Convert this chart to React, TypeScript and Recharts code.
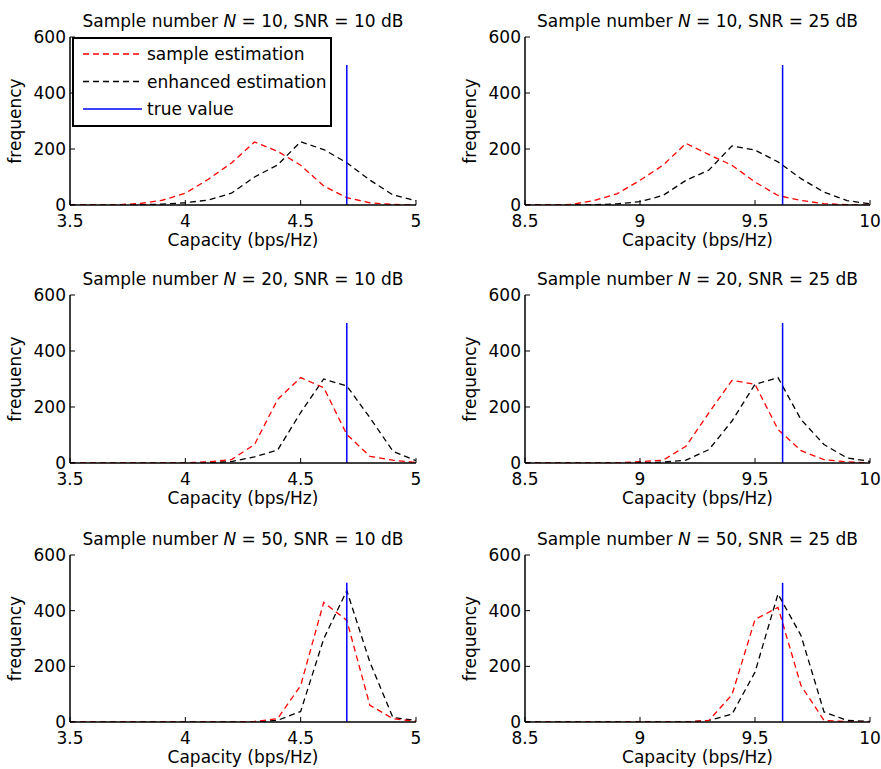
import React from 'react';
import { LineChart, Line, XAxis, YAxis, ReferenceLine, Legend } from 'recharts';

const FONT = '"DejaVu Sans", Verdana, sans-serif';

// Capacity bins (bps/Hz)
const capLow = [3.5, 3.6, 3.7, 3.8, 3.9, 4.0, 4.1, 4.2, 4.3, 4.4, 4.5, 4.6, 4.7, 4.8, 4.9, 5.0];
const capHigh = [8.5, 8.6, 8.7, 8.8, 8.9, 9.0, 9.1, 9.2, 9.3, 9.4, 9.5, 9.6, 9.7, 9.8, 9.9, 10.0];
const ticksLow = [3.5, 4, 4.5, 5];
const ticksHigh = [8.5, 9, 9.5, 10];
const freqTicks = [0, 200, 400, 600];
const trueLow = 4.7;
const trueHigh = 9.62;
const trueHeight = 500;

// N = 10, SNR = 10 dB
const sampleN10S10 = [0, 0, 1, 5, 17, 42, 92, 150, 225, 192, 142, 68, 26, 8, 2, 0];
const enhancedN10S10 = [0, 0, 0, 1, 3, 8, 18, 42, 100, 143, 226, 198, 151, 89, 36, 15];
// N = 10, SNR = 25 dB
const sampleN10S25 = [0, 0, 2, 16, 40, 88, 142, 220, 180, 142, 82, 34, 16, 5, 1, 0];
const enhancedN10S25 = [0, 0, 0, 1, 4, 12, 34, 88, 125, 211, 196, 154, 94, 46, 16, 4];
// N = 20, SNR = 10 dB
const sampleN20S10 = [0, 0, 0, 0, 0, 1, 4, 12, 66, 227, 305, 269, 102, 24, 10, 2];
const enhancedN20S10 = [0, 0, 0, 0, 0, 0, 2, 5, 22, 46, 180, 300, 275, 162, 42, 8];
// N = 20, SNR = 25 dB
const sampleN20S25 = [0, 0, 0, 0, 1, 5, 10, 60, 180, 295, 281, 120, 44, 12, 4, 0];
const enhancedN20S25 = [0, 0, 0, 0, 0, 1, 3, 10, 48, 150, 281, 305, 155, 66, 18, 6];
// N = 50, SNR = 10 dB
const sampleN50S10 = [0, 0, 0, 0, 0, 0, 0, 0, 2, 12, 131, 430, 365, 60, 12, 2];
const enhancedN50S10 = [0, 0, 0, 0, 0, 0, 0, 0, 0, 6, 38, 299, 472, 215, 16, 6];
// N = 50, SNR = 25 dB
const sampleN50S25 = [0, 0, 0, 0, 0, 0, 0, 0, 6, 98, 368, 412, 131, 6, 1, 0];
const enhancedN50S25 = [0, 0, 0, 0, 0, 0, 0, 0, 6, 28, 179, 460, 311, 36, 6, 2];

const legendItems = [
  { label: 'sample estimation', color: '#ff0000', dash: '6 4' },
  { label: 'enhanced estimation', color: '#000000', dash: '6 4' },
  { label: 'true value', color: '#0000ff', dash: undefined as string | undefined },
];

const panels = [
  { N: 10, snr: 10, caps: capLow, ticks: ticksLow, sample: sampleN10S10, enhanced: enhancedN10S10, trueCap: trueLow, col: 0, row: 0 },
  { N: 10, snr: 25, caps: capHigh, ticks: ticksHigh, sample: sampleN10S25, enhanced: enhancedN10S25, trueCap: trueHigh, col: 1, row: 0 },
  { N: 20, snr: 10, caps: capLow, ticks: ticksLow, sample: sampleN20S10, enhanced: enhancedN20S10, trueCap: trueLow, col: 0, row: 1 },
  { N: 20, snr: 25, caps: capHigh, ticks: ticksHigh, sample: sampleN20S25, enhanced: enhancedN20S25, trueCap: trueHigh, col: 1, row: 1 },
  { N: 50, snr: 10, caps: capLow, ticks: ticksLow, sample: sampleN50S10, enhanced: enhancedN50S10, trueCap: trueLow, col: 0, row: 2 },
  { N: 50, snr: 25, caps: capHigh, ticks: ticksHigh, sample: sampleN50S25, enhanced: enhancedN50S25, trueCap: trueHigh, col: 1, row: 2 },
];

// layout
const colLefts = [0, 440];
const colWidths = [440, 441];
const rowTops = [0, 256, 512];
const rowHeights = [256, 256, 257];
const plotLefts = [70, 525];
const plotRights = [416, 870];
const plotTops = [37, 295, 555];
const plotBottoms = [205, 463, 722];
const YW = 60;
const XH = 45;
const FS = 17;

const EmptyTick = () => <g />;

function LegendBox() {
  return (
    <div
      style={{
        width: 260,
        height: 90,
        boxSizing: 'border-box',
        border: '2px solid #000',
        background: '#fff',
      }}
    >
      <svg width={256} height={86} style={{ display: 'block' }}>
        {legendItems.map((it, i) => {
          const y = 15 + i * 27.5;
          return (
            <g key={it.label}>
              <line x1={9} x2={68} y1={y} y2={y} stroke={it.color} strokeWidth={1.4} strokeDasharray={it.dash} />
              <text x={73} y={y + 6} fontSize={FS} fontFamily={FONT} fill="#000">
                {it.label}
              </text>
            </g>
          );
        })}
      </svg>
    </div>
  );
}

type PanelProps = { p: (typeof panels)[number]; showLegend: boolean };

function Panel({ p, showLegend }: PanelProps) {
  const colLeft = colLefts[p.col];
  const colW = colWidths[p.col];
  const rowTop = rowTops[p.row];
  const rowH = rowHeights[p.row];
  const plotL = plotLefts[p.col];
  const plotR = plotRights[p.col];
  const plotT = plotTops[p.row];
  const plotB = plotBottoms[p.row];
  const plotH = plotB - plotT;
  const margin = {
    top: plotT - rowTop,
    bottom: rowTop + rowH - plotB - XH,
    left: plotL - colLeft - YW,
    right: colLeft + colW - plotR,
  };
  const data = p.caps.map((c, i) => ({ cap: c, sample: p.sample[i], enhanced: p.enhanced[i] }));
  const domainX = [p.ticks[0], p.ticks[p.ticks.length - 1]];

  // bottom axis label: x-axis title plus the panel title above the plot box
  const xLabel = (props: any) => {
    const vb = props.viewBox || {};
    const cx = vb.x + vb.width / 2;
    return (
      <g>
        <text x={cx} y={vb.y + 41} textAnchor="middle" fontSize={FS} fontFamily={FONT} fill="#000">
          Capacity (bps/Hz)
        </text>
        <text x={cx} y={vb.y - plotH - 10.5} textAnchor="middle" fontSize={FS} fontFamily={FONT} fill="#000">
          {'Sample number '}
          <tspan fontStyle="italic">N</tspan>
          {` = ${p.N}, SNR = ${p.snr} dB`}
        </text>
      </g>
    );
  };
  const yLabel = (props: any) => {
    const vb = props.viewBox || {};
    const cx = vb.x + vb.width - 49;
    const cy = vb.y + vb.height / 2;
    return (
      <text x={cx} y={cy} transform={`rotate(-90, ${cx}, ${cy})`} textAnchor="middle" fontSize={FS} fontFamily={FONT} fill="#000">
        frequency
      </text>
    );
  };

  const tickStyle = { fill: '#000', fontSize: FS, fontFamily: FONT };
  const axisLine = { stroke: '#000', strokeWidth: 1.5 };
  const tickLine = { stroke: '#000', strokeWidth: 1 };

  return (
    <div style={{ position: 'absolute', left: colLeft, top: rowTop }}>
      <LineChart width={colW} height={rowH} data={data} margin={margin}>
        <XAxis
          xAxisId={0}
          dataKey="cap"
          type="number"
          domain={domainX}
          ticks={p.ticks}
          interval={0}
          allowDataOverflow
          height={XH}
          tick={tickStyle}
          tickSize={-5}
          tickMargin={14.5}
          axisLine={axisLine}
          tickLine={tickLine}
          label={xLabel}
        />
        <XAxis
          xAxisId="top"
          orientation="top"
          dataKey="cap"
          type="number"
          domain={domainX}
          ticks={p.ticks}
          interval={0}
          allowDataOverflow
          height={0}
          tick={EmptyTick}
          tickSize={-5}
          axisLine={axisLine}
          tickLine={tickLine}
        />
        <YAxis
          yAxisId={0}
          type="number"
          domain={[0, 600]}
          ticks={freqTicks}
          interval={0}
          allowDataOverflow
          width={YW}
          tick={tickStyle}
          tickSize={-5}
          tickMargin={9}
          axisLine={axisLine}
          tickLine={tickLine}
          label={yLabel}
        />
        <YAxis
          yAxisId="right"
          orientation="right"
          type="number"
          domain={[0, 600]}
          ticks={freqTicks}
          interval={0}
          allowDataOverflow
          width={0}
          tick={EmptyTick}
          tickSize={-5}
          axisLine={axisLine}
          tickLine={tickLine}
        />
        <Line
          xAxisId={0}
          yAxisId={0}
          type="linear"
          dataKey="enhanced"
          name="enhanced estimation"
          stroke="#000000"
          strokeWidth={1.3}
          strokeDasharray="6 4"
          dot={false}
          activeDot={false}
          isAnimationActive={false}
        />
        <Line
          xAxisId={0}
          yAxisId={0}
          type="linear"
          dataKey="sample"
          name="sample estimation"
          stroke="#ff0000"
          strokeWidth={1.3}
          strokeDasharray="6 4"
          dot={false}
          activeDot={false}
          isAnimationActive={false}
        />
        <ReferenceLine
          xAxisId={0}
          yAxisId={0}
          segment={[
            { x: p.trueCap, y: 0 },
            { x: p.trueCap, y: trueHeight },
          ]}
          stroke="#0000ff"
          strokeWidth={1.5}
        />
        {showLegend && (
          <Legend
            layout="vertical"
            align="center"
            verticalAlign="middle"
            content={() => <LegendBox />}
            wrapperStyle={{ left: 72 - colLeft, top: 37 - rowTop, width: 'auto', height: 'auto' }}
          />
        )}
      </LineChart>
    </div>
  );
}

export default function App() {
  return (
    <div style={{ position: 'absolute', left: 0, top: 0, width: 881, height: 769, background: '#fff', overflow: 'hidden' }}>
      {panels.map((p, i) => (
        <Panel key={i} p={p} showLegend={i === 0} />
      ))}
    </div>
  );
}
